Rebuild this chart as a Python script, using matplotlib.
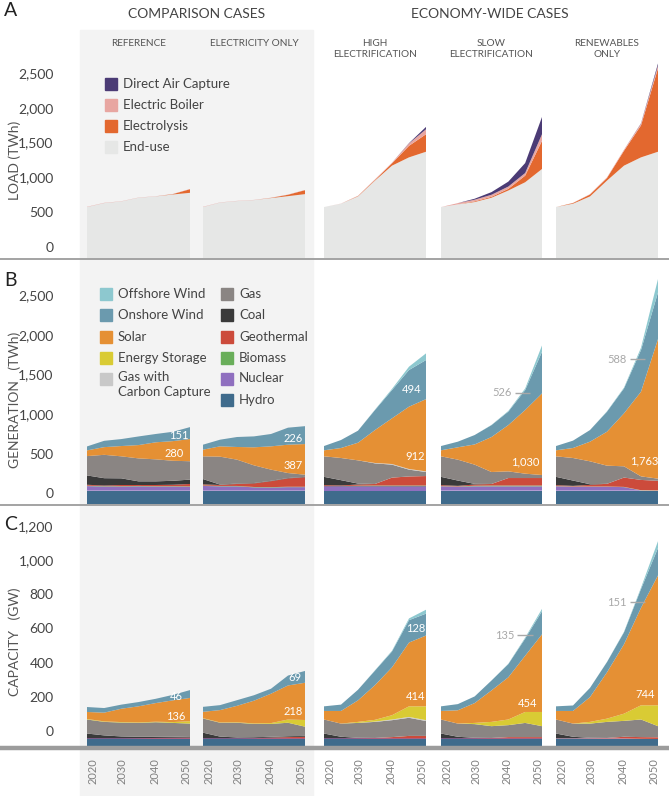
import numpy as np
import matplotlib.pyplot as plt
from matplotlib.patches import Rectangle
from matplotlib.lines import Line2D
from matplotlib.transforms import ScaledTranslation

plt.rcParams['font.family'] = ['Lato', 'DejaVu Sans']

years = [2020, 2025, 2030, 2035, 2040, 2045, 2050]
case_titles = ['REFERENCE', 'ELECTRICITY ONLY', 'HIGH\nELECTRIFICATION',
               'SLOW\nELECTRIFICATION', 'RENEWABLES\nONLY']

# ---- load (TWh) ----
load_names = ['End-use', 'Electrolysis', 'Electric Boiler', 'Direct Air Capture']
load_colors = ['#e6e7e6', '#e3682f', '#e8a6a1', '#4b3b75']

load_ref = {'End-use': [733, 790, 814, 867, 886, 914, 938],
            'Electrolysis': [0, 0, 0, 0, 0, 5, 52],
            'Electric Boiler': [4, 4, 3, 3, 3, 3, 3],
            'Direct Air Capture': [0, 0, 0, 0, 0, 0, 0]}
load_elec = {'End-use': [733, 797, 819, 833, 862, 890, 919],
             'Electrolysis': [0, 0, 0, 0, 3, 20, 57],
             'Electric Boiler': [4, 3, 3, 3, 3, 3, 3],
             'Direct Air Capture': [0, 0, 0, 0, 0, 0, 0]}
load_high = {'End-use': [733, 781, 886, 1114, 1329, 1448, 1529],
             'Electrolysis': [0, 0, 5, 10, 33, 166, 252],
             'Electric Boiler': [0, 2, 5, 8, 10, 34, 71],
             'Direct Air Capture': [0, 0, 0, 0, 0, 5, 34]}
load_slow = {'End-use': [733, 771, 805, 867, 971, 1090, 1281],
             'Electrolysis': [0, 0, 10, 14, 24, 95, 405],
             'Electric Boiler': [0, 19, 24, 29, 33, 38, 95],
             'Direct Air Capture': [0, 0, 14, 38, 71, 143, 248]}
load_ren = {'End-use': [733, 781, 886, 1114, 1329, 1448, 1529],
            'Electrolysis': [0, 10, 28, 38, 214, 460, 1200],
            'Electric Boiler': [0, 3, 5, 8, 15, 25, 40],
            'Direct Air Capture': [0, 0, 0, 0, 0, 5, 30]}

# ---- generation (TWh) and capacity (GW) ----
res_names = ['Hydro', 'Nuclear', 'Biomass', 'Geothermal', 'Coal', 'Gas',
             'Gas with\nCarbon Capture', 'Energy Storage', 'Solar',
             'Onshore Wind', 'Offshore Wind']
res_colors = ['#3f6b8c', '#8f6fbf', '#69ae5a', '#cc4b3b', '#3a3a3a', '#8a8583',
              '#c8c8c8', '#d9cb34', '#e59034', '#6b9aae', '#8dc8cf']

gen_ref = {'Hydro': [168] * 7, 'Nuclear': [58, 52, 52, 55, 52, 52, 50],
           'Biomass': [5] * 7, 'Geothermal': [12, 8, 15, 12, 15, 18, 30],
           'Coal': [118, 93, 84, 46, 46, 50, 55],
           'Gas': [244, 295, 278, 290, 278, 253, 232],
           'Gas with\nCarbon Capture': [0] * 7, 'Energy Storage': [0] * 7,
           'Solar': [72, 97, 130, 168, 215, 248, 280],
           'Onshore Wind': [50, 80, 88, 109, 105, 118, 151],
           'Offshore Wind': [0] * 7}
gen_elec = {'Hydro': [168] * 7, 'Nuclear': [60, 55, 55, 42, 40, 45, 45],
            'Biomass': [5] * 7, 'Geothermal': [15, 12, 25, 45, 75, 105, 120],
            'Coal': [67, 5, 5, 5, 5, 5, 5],
            'Gas': [287, 353, 302, 223, 141, 63, 27],
            'Gas with\nCarbon Capture': [0] * 7, 'Energy Storage': [0] * 7,
            'Solar': [84, 130, 160, 228, 294, 358, 387],
            'Onshore Wind': [63, 84, 126, 138, 156, 215, 226],
            'Offshore Wind': [0] * 7}
gen_high = {'Hydro': [168] * 7, 'Nuclear': [55] * 7,
            'Biomass': [3, 3, 8, 10, 10, 10, 10],
            'Geothermal': [12, 8, 15, 20, 100, 115, 120],
            'Coal': [105, 67, 12, 0, 0, 0, 0],
            'Gas': [259, 280, 293, 260, 164, 86, 51],
            'Gas with\nCarbon Capture': [0, 0, 0, 5, 8, 8, 8],
            'Energy Storage': [0] * 7,
            'Solar': [76, 126, 223, 416, 577, 787, 912],
            'Onshore Wind': [54, 101, 152, 253, 357, 463, 494],
            'Offshore Wind': [0, 0, 0, 5, 15, 42, 84]}
gen_slow = {'Hydro': [168] * 7, 'Nuclear': [55, 50, 55, 55, 55, 55, 55],
            'Biomass': [3, 3, 8, 10, 10, 10, 10],
            'Geothermal': [12, 8, 15, 20, 95, 95, 95],
            'Coal': [105, 67, 8, 0, 0, 0, 0],
            'Gas': [259, 264, 243, 151, 84, 55, 38],
            'Gas with\nCarbon Capture': [0] * 7, 'Energy Storage': [0] * 7,
            'Solar': [76, 156, 255, 442, 585, 804, 1030],
            'Onshore Wind': [54, 71, 119, 150, 170, 252, 526],
            'Offshore Wind': [0, 0, 0, 3, 8, 20, 80]}
gen_ren = {'Hydro': [168] * 7, 'Nuclear': [55, 50, 50, 50, 45, 3, 0],
           'Biomass': [3] * 7, 'Geothermal': [12, 8, 21, 34, 118, 130, 122],
           'Coal': [105, 67, 8, 0, 0, 0, 0],
           'Gas': [259, 285, 289, 229, 142, 45, 27],
           'Gas with\nCarbon Capture': [0] * 7, 'Energy Storage': [0] * 7,
           'Solar': [76, 126, 248, 429, 669, 1069, 1763],
           'Onshore Wind': [54, 93, 147, 253, 315, 526, 588],
           'Offshore Wind': [0, 0, 0, 5, 10, 30, 170]}

cap_ref = {'Hydro': [41] * 7, 'Nuclear': [3] * 7, 'Biomass': [0] * 7,
           'Geothermal': [1, 1, 1, 2, 3, 4, 5],
           'Coal': [28, 17, 11, 8, 7, 6, 7],
           'Gas': [82, 79, 81, 81, 85, 81, 75],
           'Gas with\nCarbon Capture': [0] * 7,
           'Energy Storage': [3, 3, 3, 3, 3, 5, 14],
           'Solar': [41, 51, 78, 94, 109, 127, 136],
           'Onshore Wind': [29, 27, 24, 25, 25, 32, 46],
           'Offshore Wind': [0] * 7}
cap_elec = {'Hydro': [41] * 7, 'Nuclear': [3] * 7, 'Biomass': [0] * 7,
            'Geothermal': [1, 1, 1, 2, 5, 8, 10],
            'Coal': [33, 10, 5, 5, 5, 5, 5],
            'Gas': [83, 81, 86, 78, 75, 79, 54],
            'Gas with\nCarbon Capture': [0] * 7,
            'Energy Storage': [2, 2, 3, 3, 5, 19, 39],
            'Solar': [37, 72, 96, 133, 172, 199, 218],
            'Onshore Wind': [29, 29, 33, 32, 29, 58, 69],
            'Offshore Wind': [0] * 7}
cap_high = {'Hydro': [41] * 7, 'Nuclear': [3] * 7, 'Biomass': [0] * 7,
            'Geothermal': [1, 1, 2, 3, 8, 15, 15],
            'Coal': [28, 9, 2, 0, 0, 0, 0],
            'Gas': [82, 77, 87, 94, 99, 106, 87],
            'Gas with\nCarbon Capture': [0, 0, 0, 2, 4, 5, 5],
            'Energy Storage': [0, 0, 6, 10, 25, 62, 81],
            'Solar': [50, 74, 126, 203, 280, 373, 414],
            'Onshore Wind': [27, 37, 62, 85, 93, 131, 128],
            'Offshore Wind': [0, 0, 0, 2, 4, 10, 23]}
cap_slow = {'Hydro': [41] * 7, 'Nuclear': [3] * 7, 'Biomass': [0] * 7,
            'Geothermal': [1, 1, 2, 3, 8, 8, 8],
            'Coal': [28, 9, 2, 0, 0, 0, 0],
            'Gas': [82, 77, 80, 69, 70, 83, 64],
            'Gas with\nCarbon Capture': [0] * 7,
            'Energy Storage': [0, 0, 7, 25, 33, 64, 83],
            'Solar': [50, 78, 116, 184, 247, 329, 454],
            'Onshore Wind': [27, 36, 39, 58, 77, 100, 135],
            'Offshore Wind': [0, 0, 0, 0, 2, 6, 14]}
cap_ren = {'Hydro': [41] * 7, 'Nuclear': [3, 3, 3, 3, 3, 1, 0],
           'Biomass': [0] * 7, 'Geothermal': [1, 1, 2, 3, 10, 10, 10],
           'Coal': [28, 9, 2, 0, 0, 0, 0],
           'Gas': [82, 77, 83, 94, 93, 103, 65],
           'Gas with\nCarbon Capture': [0] * 7,
           'Energy Storage': [0, 0, 10, 19, 42, 83, 122],
           'Solar': [50, 74, 145, 271, 406, 570, 760],
           'Onshore Wind': [27, 32, 54, 60, 70, 110, 160],
           'Offshore Wind': [0, 0, 0, 1, 3, 8, 40]}

# value labels: (case index, text, year, value, callout)
gen_labels = [(0, '151', 2046.8, 859, False), (0, '280', 2045.3, 644, False),
              (1, '226', 2046.5, 833, False), (1, '387', 2046.5, 492, False),
              (2, '494', 2045.9, 1452, False), (2, '912', 2046.8, 606, False),
              (3, '1,030', 2045.0, 530, False), (4, '1,763', 2045.9, 543, False),
              (3, '526', 2038.1, 1402, True), (4, '588', 2037.9, 1831, True)]
cap_labels = [(0, '46', 2045.9, 287, False), (0, '136', 2045.9, 175, False),
              (1, '69', 2047.1, 398, False), (1, '218', 2046.5, 199, False),
              (2, '128', 2047.1, 690, False), (2, '414', 2046.8, 287, False),
              (3, '454', 2045.6, 251, False), (4, '744', 2046.2, 304, False),
              (3, '135', 2038.9, 649, True), (4, '151', 2037.9, 842, True)]

# ---- layout (pixels) ----
W, H = 669, 796
fig = plt.figure(figsize=(W / 100, H / 100), dpi=100)
TXT = '#444444'


def fx(x):
    return x / W


def fy(y):
    return 1 - y / H


cols_px = [(87, 190), (203, 305), (324, 426), (441, 542), (556, 658)]

fig.add_artist(Rectangle((fx(80), 0), fx(313) - fx(80), fy(30), color='#f3f3f3',
                         transform=fig.transFigure, zorder=-5))

panels = [
    # top, bottom, ymax, label shift, ticks, tick labels, data, names, colors
    (55, 258, 2921, 163, [0, 500, 1000, 1500, 2000, 2500],
     ['0', '500', '1,000', '1,500', '2,000', '2,500'],
     [load_ref, load_elec, load_high, load_slow, load_ren], load_names, load_colors),
    (270, 504, 2955, 135, [0, 500, 1000, 1500, 2000, 2500],
     ['0', '500', '1,000', '1,500', '2,000', '2,500'],
     [gen_ref, gen_elec, gen_high, gen_slow, gen_ren], res_names, res_colors),
    (515, 746, 1351, 88, [0, 200, 400, 600, 800, 1000, 1200],
     ['0', '200', '400', '600', '800', '1,000', '1,200'],
     [cap_ref, cap_elec, cap_high, cap_slow, cap_ren], res_names, res_colors),
]

# small horizontal nudges (px) so the year labels sit inside each column
year_nudge = [6, 1, -1, -4]

axes_grid = []
for p, (top, bot, ymax, shift, ticks, ticklabels, datas, names, colors) in enumerate(panels):
    row = []
    for c, (x0, x1) in enumerate(cols_px):
        ax = fig.add_axes([fx(x0), fy(bot), fx(x1) - fx(x0), fy(top) - fy(bot)])
        ax.set_facecolor('none')
        d = datas[c]
        ax.stackplot(years, *[d[n] for n in names], colors=colors, lw=0)
        ax.set_xlim(2020, 2050)
        ax.set_ylim(0, ymax)
        for s in ax.spines.values():
            s.set_visible(False)
        if c == 0:
            ax.set_yticks(np.array(ticks) + shift)
            ax.set_yticklabels(ticklabels, fontsize=10, color=TXT)
            ax.tick_params(axis='y', length=0, pad=24)
        else:
            ax.set_yticks([])
        if p == 2:
            ax.set_xticks([2020, 2030, 2040, 2050])
            ax.set_xticklabels(['2020', '2030', '2040', '2050'], rotation=90,
                               fontsize=8, color='#808080')
            ax.tick_params(axis='x', length=0, pad=9)
            for lab, dx in zip(ax.get_xticklabels(), year_nudge):
                lab.set_transform(lab.get_transform() +
                                  ScaledTranslation(dx / 100, 0, fig.dpi_scale_trans))
        else:
            ax.set_xticks([])
        row.append(ax)
    axes_grid.append(row)


def put_labels(row, labels):
    for c, txt, yr, val, callout in labels:
        ax = row[c]
        if callout:
            ax.text(yr, val, txt, color='#a8a8a8', fontsize=8, ha='center', va='center')
            ax.plot([yr + 3.8, yr + 8.3], [val, val], color='#a8a8a8', lw=1,
                    solid_capstyle='butt')
        else:
            ax.text(yr, val, txt, color='white', fontsize=8, ha='center', va='center')


put_labels(axes_grid[1], gen_labels)
put_labels(axes_grid[2], cap_labels)

# separator lines
for y, lw in [(259, 1.3), (505, 1.3), (748, 3.2)]:
    fig.add_artist(Line2D([0, 1], [fy(y), fy(y)], color='#9c9c9c', lw=lw,
                          transform=fig.transFigure))

# headers
fig.text(fx(197), fy(14), 'COMPARISON CASES', fontsize=10, color=TXT,
         ha='center', va='center')
fig.text(fx(490), fy(14), 'ECONOMY-WIDE CASES', fontsize=10, color=TXT,
         ha='center', va='center')
for (x0, x1), t in zip(cols_px, case_titles):
    fig.text(fx((x0 + x1) / 2), fy(39), t, fontsize=7.2, color='#555555',
             ha='center', va='top', multialignment='center', linespacing=1.35)

# panel letters and axis titles
for letter, y in [('A', 10), ('B', 280), ('C', 525)]:
    fig.text(fx(4), fy(y), letter, fontsize=14, color='#222222', ha='left', va='center')
for t, y in [('LOAD (TWh)', 160), ('GENERATION   (TWh)', 400), ('CAPACITY   (GW)', 642)]:
    fig.text(fx(15), fy(y), t, fontsize=10, color='#555555', rotation=90,
             ha='center', va='center')


# legends
def legend_item(x, y, color, text):
    fig.add_artist(Rectangle((fx(x), fy(y + 6)), 12 / W, 12 / H, color=color,
                             transform=fig.transFigure))
    fig.text(fx(x + 18), fy(y), text, fontsize=9.5, color=TXT, ha='left',
             va='center', linespacing=1.3)


for name, color, y in zip(load_names[::-1], load_colors[::-1], [84, 105, 126, 147]):
    legend_item(105, y, color, name)

left_col = ['Offshore Wind', 'Onshore Wind', 'Solar', 'Energy Storage',
            'Gas with\nCarbon Capture']
right_col = ['Gas', 'Coal', 'Geothermal', 'Biomass', 'Nuclear', 'Hydro']
left_y = [294, 315, 336.5, 357.5, 378.5]
right_y = [294, 315, 336.5, 357.5, 378.5, 400]
for name, y in zip(left_col, left_y):
    col = res_colors[res_names.index(name)]
    if '\n' in name:
        fig.add_artist(Rectangle((fx(100), fy(y + 6)), 12 / W, 12 / H, color=col,
                                 transform=fig.transFigure))
        fig.text(fx(118), fy(y - 7), name, fontsize=9.5, color=TXT, ha='left',
                 va='top', linespacing=1.25)
    else:
        legend_item(100, y, col, name)
for name, y in zip(right_col, right_y):
    legend_item(221, y, res_colors[res_names.index(name)], name)

fig.savefig('out.png', dpi=100)
